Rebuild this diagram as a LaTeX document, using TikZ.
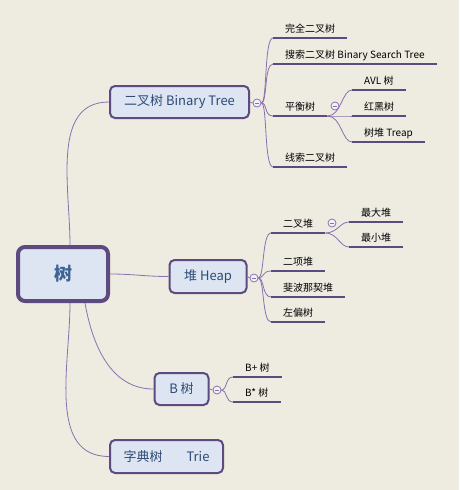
\documentclass[tikz,border=0pt]{standalone}
\usepackage{fontspec}
\setmainfont{Noto Sans CJK SC}
\usetikzlibrary{positioning}

\definecolor{bgcol}{HTML}{EEEBE1}
\definecolor{boxfill}{HTML}{DCE5F1}
\definecolor{boxline}{HTML}{5D4A7E}
\definecolor{linkcol}{HTML}{8A70B0}
\definecolor{topictext}{HTML}{2E4A75}
\definecolor{roottext}{HTML}{3E6296}

\tikzset{
  topic/.style={draw=boxline, fill=boxfill, line width=2pt, rounded corners=5pt, text=topictext, font=\fontsize{13}{15}\selectfont, inner sep=0pt},
  leaf/.style={anchor=south west, inner xsep=12pt, inner ysep=4pt, text height=7.5pt, text depth=1.5pt, font=\fontsize{10}{12}\selectfont},
  bar/.style={draw=boxline, line width=2.4pt},
  link/.style={draw=linkcol, line width=0.8pt},
  fold/.style={circle, draw=linkcol, fill=white!60!boxfill, line width=0.8pt, minimum size=8pt, inner sep=0pt,
    path picture={\draw[linkcol, line width=0.7pt] ([xshift=-2.2pt]path picture bounding box.center) -- ([xshift=2.2pt]path picture bounding box.center);}},
}

\begin{document}
\begin{tikzpicture}[x=1pt,y=1pt]
    \fill[bgcol] (0,0) rectangle (459,-490);  % page background
    \useasboundingbox (0,0) rectangle (459,-490);

    % main topics
    \node[topic, line width=4pt, rounded corners=7pt, minimum width=90pt, minimum height=54pt, text=roottext, font=\fontsize{18}{20}\selectfont\bfseries] (root) at (63,-274) {树};
    \node[topic, minimum width=139pt, minimum height=32pt] (bintree) at (179.5,-102) {二叉树 Binary Tree};
    \node[topic, minimum width=77pt, minimum height=33pt] (heap) at (208,-276.5) {堆 Heap};
    \node[topic, minimum width=54pt, minimum height=32pt] (btree) at (181.5,-389) {B 树};
    \node[topic, minimum width=113pt, minimum height=33pt] (trie) at (166.5,-456.5) {字典树\hspace{24pt}Trie};

    \draw[link] ([xshift=7pt]root.north) to[out=90,in=180] (bintree.west);
    \draw[link] (root.east) to[out=0,in=180] (heap.west);
    \draw[link] ([xshift=22pt]root.south) to[out=-80,in=180] (btree.west);
    \draw[link] ([xshift=7pt]root.south) to[out=-90,in=180] (trie.west);

    % binary tree branch
    \node[fold] (btfold) at (257,-103) {};
    \node[leaf] (full) at (273,-38) {完全二叉树};
    \node[leaf] (bst) at (273,-64) {搜索二叉树 Binary Search Tree};
    \node[leaf] (bal) at (273,-116) {平衡树};
    \node[leaf] (thread) at (273,-167) {线索二叉树};
    \draw[link] (bintree.east) -- (btfold.west);
    \foreach \n in {full,bst,bal,thread}
        \draw[link] (btfold.east) to[out=0,in=180,out distance=6pt,in distance=9pt] (\n.south west);

    \node[fold] (balfold) at (335,-106) {};
    \node[leaf] (avl) at (352,-90) {AVL 树};
    \node[leaf] (rb) at (352,-116) {红黑树};
    \node[leaf] (treap) at (352,-142) {树堆 Treap};
    \foreach \n in {avl,rb,treap}
        \draw[link] (bal.south east) to[out=0,in=180,out distance=14pt,in distance=10pt] (\n.south west);

    % heap branch
    \node[fold] (heapfold) at (254,-278) {};
    \node[leaf] (binheap) at (271,-233) {二叉堆};
    \node[leaf] (binom) at (271,-271) {二项堆};
    \node[leaf] (fib) at (271,-297) {斐波那契堆};
    \node[leaf] (leftist) at (271,-322) {左偏树};
    \draw[link] (heap.east) -- (heapfold.west);
    \foreach \n in {binheap,binom,fib,leftist}
        \draw[link] (heapfold.east) to[out=0,in=180,out distance=6pt,in distance=9pt] (\n.south west);

    \node[fold] (bhfold) at (332,-223) {};
    \node[leaf] (maxh) at (349,-222) {最大堆};
    \node[leaf] (minh) at (349,-247) {最小堆};
    \foreach \n in {maxh,minh}
        \draw[link] (binheap.south east) to[out=0,in=180,out distance=12pt,in distance=9pt] (\n.south west);

    % b-tree branch
    \node[fold] (bfold) at (217,-390) {};
    \node[leaf] (bplus) at (233,-377) {B+ 树};
    \node[leaf] (bstar) at (233,-402) {B* 树};
    \draw[link] (btree.east) -- (bfold.west);
    \foreach \n in {bplus,bstar}
        \draw[link] (bfold.east) to[out=0,in=180,out distance=6pt,in distance=8pt] (\n.south west);

    % underlines of the leaves
    \foreach \n in {full,bst,bal,thread,avl,rb,treap,binheap,binom,fib,leftist,maxh,minh,bplus,bstar}
        \draw[bar] (\n.south west) -- (\n.south east);
\end{tikzpicture}
\end{document}
